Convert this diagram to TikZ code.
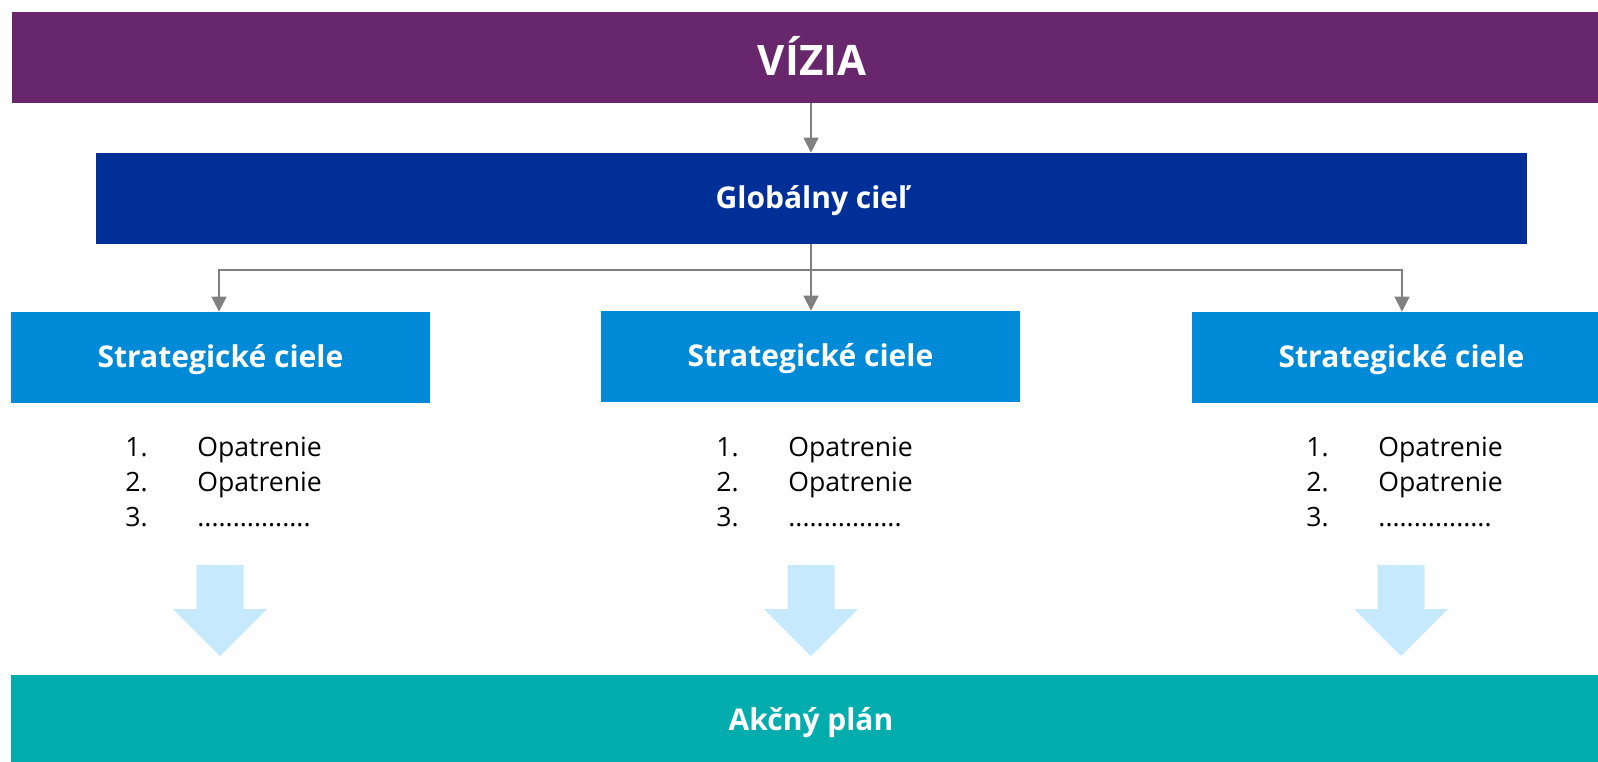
\documentclass[tikz,border=0pt]{standalone}
\usepackage{fontspec}
\setmainfont{Open Sans}
\usetikzlibrary{arrows.meta}
\definecolor{purple}{HTML}{68266C}
\definecolor{navy}{HTML}{003097}
\definecolor{blue}{HTML}{008AD8}
\definecolor{lightblue}{HTML}{C6E9FD}
\definecolor{teal}{HTML}{03ADAD}
\definecolor{arrowgray}{HTML}{808080}
\tikzset{
  box/.style={rectangle,inner sep=0pt,text=white,text depth=.3ex,font=\bfseries\fontsize{15}{18}\selectfont},
  link/.style={arrowgray,line width=.8pt,-{Triangle[width=7.5pt,length=7.5pt]}},
  item/.style={anchor=base west,inner sep=0pt,font=\fontsize{13.3}{16}\selectfont}
}

\begin{document}
\begin{tikzpicture}[x=.5pt,y=-.5pt]
  \useasboundingbox (0,0) rectangle (1598,761);
  \clip (0,0) rectangle (1598,761);
  \node[box,fill=purple,minimum width=800pt,minimum height=45.5pt,font=\bfseries\fontsize{21}{25}\selectfont] (vizia) at (812,57.5) {VÍZIA};
  \node[box,fill=navy,minimum width=715.5pt,minimum height=45.5pt] (global) at (811.5,198.5) {Globálny cieľ};
  \node[box,fill=blue,minimum width=209.5pt,minimum height=45.5pt] (strat1) at (220.5,357.5) {Strategické ciele};
  \node[box,fill=blue,minimum width=209.5pt,minimum height=45.5pt] (strat2) at (810.5,356.5) {Strategické ciele};
  \node[box,fill=blue,minimum width=209.5pt,minimum height=45.5pt] (strat3) at (1401.5,357.5) {Strategické ciele};
  \node[box,fill=teal,minimum width=800pt,minimum height=45.5pt] (plan) at (811,720.5) {Akčný plán};
  % connectors
  \coordinate (split) at (811,270);
  \draw[link] (811,103) -- (global.north -| 811,0);
  \draw[link] (global.south -| 811,0) -- (strat2.north -| 811,0);
  \draw[link] (split) -| (strat1.north -| 219,0);
  \draw[link] (split) -| (strat3.north -| 1402,0);
  % lists and big arrows
  \foreach \c/\n in {220/a,811/b,1401/c} {
    \node[item] (\n1) at (\c-95,456) {1.};
    \node[item] (\n2) at (\c-95,491) {2.};
    \node[item] (\n3) at (\c-95,526) {3.};
    \node[item] (\n1t) at (\c-23,456) {Opatrenie};
    \node[item] (\n2t) at (\c-23,491) {Opatrenie};
    \node[item] (\n3t) at (\c-23,526) {................};
    \fill[lightblue] (\c-23.5,565) -- (\c+23.5,565) -- (\c+23.5,609) -- (\c+47,609)
      -- (\c,656) -- (\c-47,609) -- (\c-23.5,609) -- cycle;
  }
\end{tikzpicture}
\end{document}
